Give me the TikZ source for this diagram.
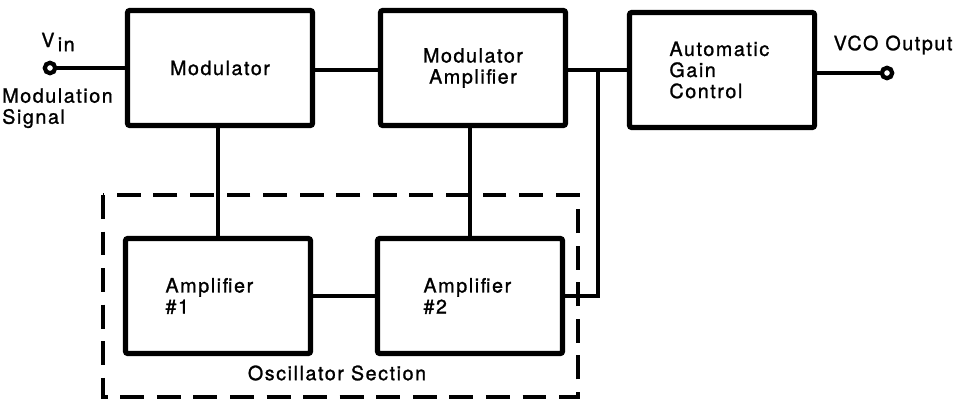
\documentclass[tikz,border=0pt]{standalone}
\usepackage{fontspec}
\setmainfont[LetterSpace=8,FakeBold=1.2]{TeX Gyre Heros}
\begin{document}
\begin{tikzpicture}[x=0.025cm,y=-0.025cm,
  every node/.style={font=\fontsize{14}{15}\selectfont},
  block/.style={draw,line width=3.6pt,rounded corners=1.5pt,minimum width=4.625cm,minimum height=2.875cm,inner sep=0pt},
  leftblock/.style={block,text width=2.625cm,align=left,inner xsep=1cm},
  term/.style={circle,draw,line width=3pt,fill=white,minimum size=0.26cm,inner sep=0pt},
  wire/.style={line width=2.8pt}]
\useasboundingbox (0,0) rectangle (961,401);
% blocks
\node[block] (mod) at (220,68) {Modulator};
\node[block,align=center] (modamp) at (473,68) {Modulator\\Amplifier};
\node[leftblock,minimum width=4.525cm] (agc) at (722,70) {Automatic\\Gain\\Control};
\node[leftblock] (amp1) at (218,296) {Amplifier\\\#1};
\node[leftblock,inner xsep=1.15cm,text width=2.325cm] (amp2) at (470,296) {Amplifier\\\#2};

% terminals
\node[term] (vin) at (50,68) {};
\node[term] (vco) at (887,73) {};
\coordinate (tap) at (598,70);

% wiring
\draw[wire] (vin) -- (mod);
\draw[wire] (mod.east |- tap) -- (modamp.west |- tap);
\draw[wire] (modamp.east |- tap) -- (agc.west |- tap);
\draw[wire] (agc.east |- vco) -- (vco);
\draw[wire] (amp1.north) -- (amp1.north |- mod.south);
\draw[wire] (amp2.north) -- (amp2.north |- modamp.south);
\draw[wire] (amp1) -- (amp2);
\draw[wire] (amp2.east) -| (tap);

% oscillator section
\draw[wire,dash pattern=on 17pt off 9pt] (103,195) rectangle (578,397);
\node (osclabel) at (337,373) {Oscillator Section};

% labels
\node (vinlabel) at (58,42) {V\,\raisebox{-0.4ex}{in}};
\node[anchor=north west,align=left,inner sep=0pt] (modsig) at (2,88) {Modulation\\Signal};
\node (vcolabel) at (893,45) {VCO Output};
\end{tikzpicture}
\end{document}
